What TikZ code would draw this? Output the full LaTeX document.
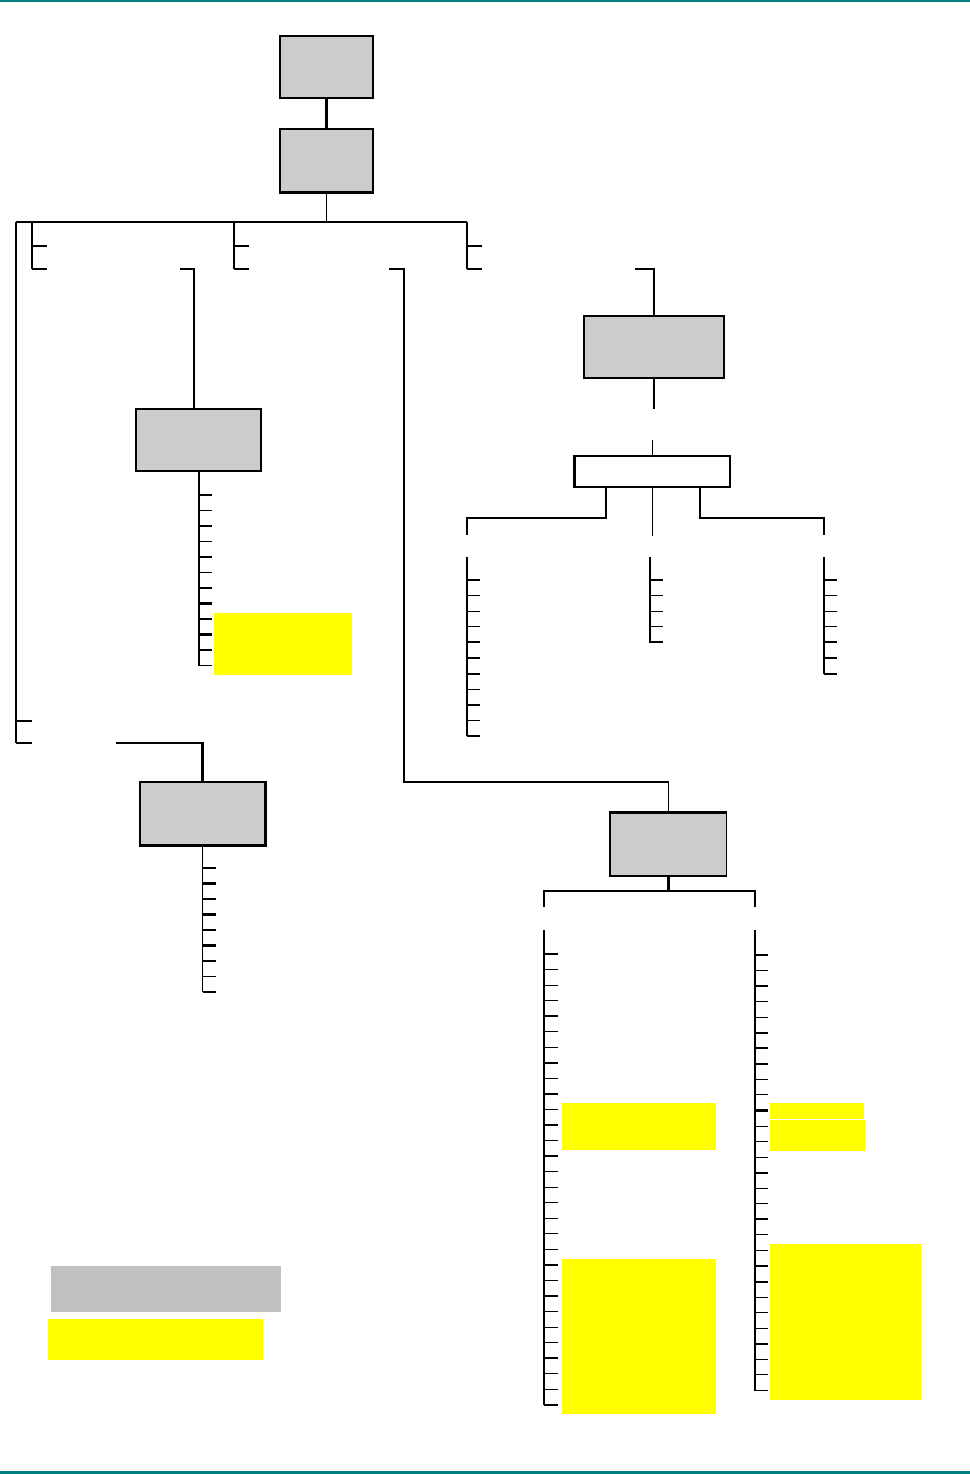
\documentclass[tikz,border=0pt]{standalone}
\usepackage{tikz}
\usepackage{xcolor}
\definecolor{Ink}{HTML}{000000}
\definecolor{BoxGrey}{HTML}{CCCCCC}
\definecolor{KeyGrey}{HTML}{C0C0C0}
\definecolor{Mark}{HTML}{FFFF00}
\definecolor{Rule}{HTML}{008080}
\tikzset{
  grybox/.style={draw=Ink,fill=BoxGrey,line width=0.7pt,inner sep=0pt,anchor=center},
  whtbox/.style={draw=Ink,fill=white,line width=0.7pt,inner sep=0pt,anchor=center},
  hilite/.style={fill=Mark,draw=none,inner sep=0pt,anchor=center},
  keybox/.style={fill=KeyGrey,draw=none,inner sep=0pt,anchor=center},
  link/.style={draw=Ink,line width=0.6pt},
  heavy/.style={draw=Ink,line width=1.2pt},
  rulebar/.style={draw=Rule,line width=1.2pt}
}

\begin{document}
\begin{tikzpicture}[x=0.02cm,y=-0.02cm]
  \useasboundingbox (0,0) rectangle (970,1474);
  \draw[rulebar] (0,1) -- (970,1);
  \draw[rulebar] (0,1472.5) -- (970,1472.5);

  % boxes
  \node[grybox,minimum width=1.86cm,minimum height=1.24cm] (top) at (326.5,67) {};
  \node[grybox,minimum width=1.86cm,minimum height=1.26cm] (main) at (326.5,160.5) {};
  \node[grybox,minimum width=2.5cm,minimum height=1.24cm] (setup) at (198.5,440) {};
  \node[grybox,minimum width=2.5cm,minimum height=1.26cm] (tools) at (202.5,813.5) {};
  \node[grybox,minimum width=2.8cm,minimum height=1.24cm] (meas) at (654,347) {};
  \node[whtbox,minimum width=3.1cm,minimum height=0.62cm] (mode) at (652.5,471.5) {};
  \node[grybox,minimum width=2.32cm,minimum height=1.26cm] (param) at (668.5,844.5) {};
  \draw[heavy] (main.south west) -- (main.south east);
  \draw[heavy] (tools.north east) -- (tools.south east) -- (tools.south west);
  \draw[heavy] (param.south west) -- (param.north west) -- (param.north east);
  \draw[heavy] (mode.north west) -- (mode.south west);

  % highlighted entries
  \node[hilite,minimum width=2.76cm,minimum height=1.24cm] (hiA) at (283,644) {};
  \node[hilite,minimum width=3.08cm,minimum height=0.94cm] (hiB) at (639,1126.5) {};
  \node[hilite,minimum width=3.08cm,minimum height=3.1cm] (hiC) at (639,1336.5) {};
  \node[hilite,minimum width=1.88cm,minimum height=0.32cm] (hiD) at (817,1111) {};
  \node[hilite,minimum width=1.9cm,minimum height=0.62cm] (hiE) at (817.5,1135.5) {};
  \node[hilite,minimum width=3.02cm,minimum height=3.12cm] (hiF) at (845.5,1322) {};

  % key
  \node[keybox,minimum width=4.6cm,minimum height=0.92cm] (keyA) at (166,1289) {};
  \node[hilite,minimum width=4.3cm,minimum height=0.82cm] (keyB) at (155.5,1339.5) {};

  % main tree
  \coordinate (busL) at (16,222);
  \coordinate (busR) at (467,222);
  \coordinate (trunk) at (16,743);
  \draw[heavy] (top.south) -- (main.north);
  \draw[link] (main.south) -- (main.south |- busL);
  \draw[link] (busL) -- (busR);
  \draw[heavy] (busL) -- (trunk);
  \foreach \gx in {32,234,467} {
    \draw[link] (\gx,222) -- (\gx,269);
    \draw[link] (\gx,246) -- ++(15,0);
    \draw[link] (\gx,269) -- ++(15,0);
  }
  \draw[link] (16,721) -- (32,721);
  \draw[heavy] (trunk) -- (32,743);
  \draw[heavy] (116,743) -| (tools.north);
  \draw[link] (180,269) -- (194,269) -- (setup.north -| 194,0);
  \draw[link] (389,269) -- (404,269) -- (404,782) -| (param.north);
  \draw[link] (635,269) -| (meas.north);

  % measurement branch
  \coordinate (gapA) at (654,409);
  \coordinate (gapB) at (652.5,440);
  \draw[link] (meas.south) -- (gapA);
  \draw[link] (gapB) -- (mode.north);
  \draw[heavy] ([xshift=-0.93cm]mode.south) |- (467,518) -- (467,535);
  \draw[link] (mode.south) -- ++(0,48);
  \draw[link] ([xshift=0.95cm]mode.south) |- (824,518) -- (824,535);

  % entry lists
  \draw[link] (setup.south -| 199,0) -- (199,666);
  \foreach \i in {0,...,11} \draw[link] (199,495+15.5*\i) -- ++(13,0);
  \foreach \i in {0,7,9} \draw[heavy] (199,495+15.5*\i) -- ++(13,0);

  \draw[link] (tools.south) -- (202.5,992);
  \foreach \i in {0,...,8} \draw[link] (202.5,868+15.5*\i) -- ++(13,0);
  \foreach \i in {1,3,5} \draw[heavy] (202.5,868+15.5*\i) -- ++(13,0);

  \draw[link] (467,557) -- (467,736);
  \foreach \i in {0,...,10} \draw[link] (467,580+15.6*\i) -- ++(13,0);
  \foreach \i in {4,6,8} \draw[heavy] (467,580+15.6*\i) -- ++(13,0);

  \draw[link] (650,557) -- (650,643);
  \foreach \i in {0,...,4} \draw[link] (650,580+15.6*\i) -- ++(13,0);
  \draw[heavy] (650,642.4) -- ++(13,0);

  \draw[link] (824,557) -- (824,674);
  \foreach \i in {0,...,6} \draw[link] (824,580+15.6*\i) -- ++(13,0);
  \foreach \i in {4,6} \draw[heavy] (824,580+15.6*\i) -- ++(13,0);

  % parameter branch
  \draw[heavy] (param.south) -- (668.5,891);
  \draw[link] (544,907) |- (755,891) -- (755,907);

  \draw[link] (544,930) -- (544,1405);
  \foreach \i in {0,...,29} \draw[link] (544,954+15.55*\i) -- ++(14,0);
  \foreach \i in {0,4,7,9,11,13,20,22,26,29} \draw[heavy] (544,954+15.55*\i) -- ++(14,0);

  \draw[link] (755,930) -- (755,1391);
  \foreach \i in {0,...,28} \draw[link] (755,955+15.55*\i) -- ++(13,0);
  \foreach \i in {2,5,6,7,10,14,17,21,25} \draw[heavy] (755,955+15.55*\i) -- ++(13,0);
\end{tikzpicture}
\end{document}
